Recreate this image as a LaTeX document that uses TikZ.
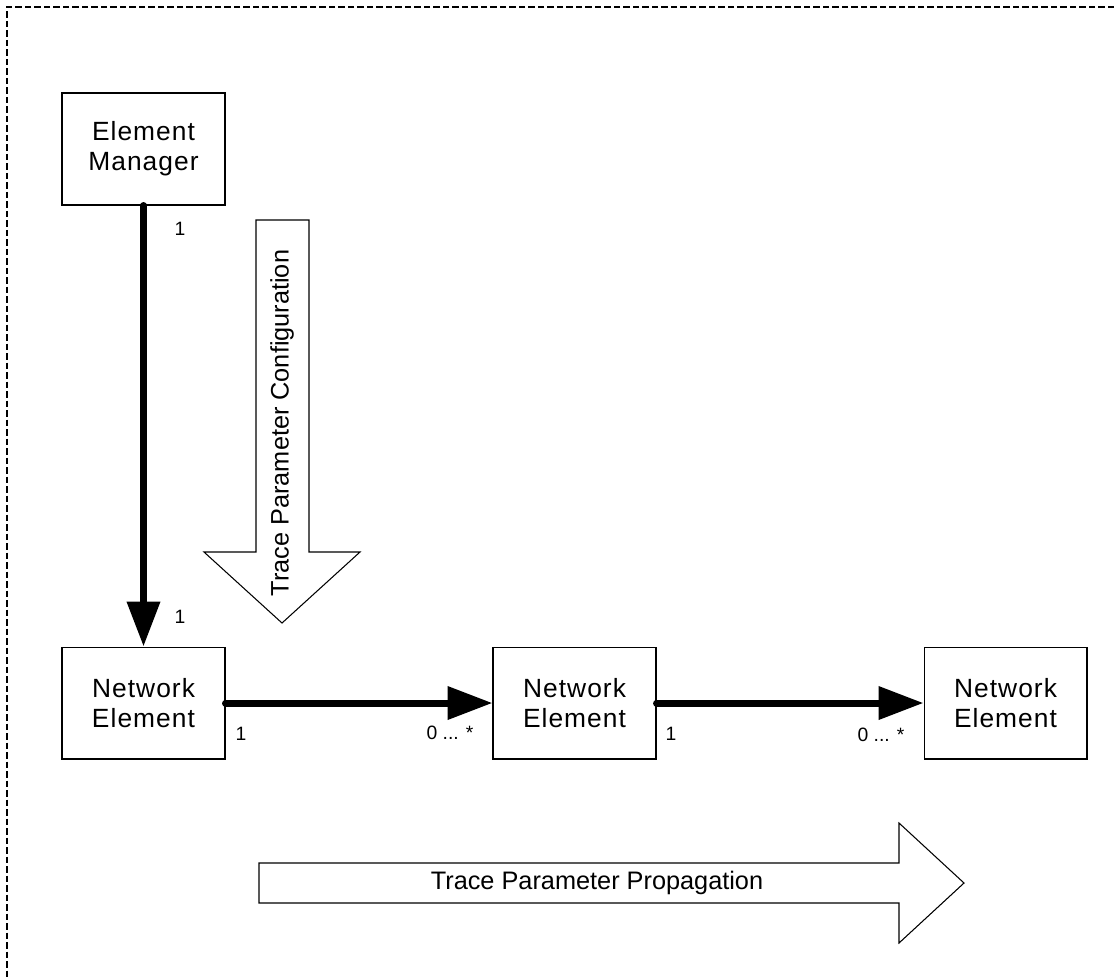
\documentclass[tikz,border=0pt]{standalone}
\usepackage{fontspec}
\setmainfont{Liberation Sans}
\usetikzlibrary{calc,arrows.meta}

\begin{document}
\begin{tikzpicture}[x=0.02cm,y=-0.02cm]
    \pgfmathsetmacro{\h}{703}	%row of network elements
    \pgfmathsetmacro{\d}{431}	%step between elements

    \tikzset{
        box/.style={draw, line width=0.6pt, minimum width=3.26cm, minimum height=2.24cm, align=center, font=\fontsize{15}{17}\selectfont\addfontfeatures{LetterSpace=4}},
        link/.style={line width=0.14cm, line cap=round, -{Triangle[length=0.9cm,width=0.64cm]}},
        mult/.style={font=\fontsize{11}{13}\selectfont},
        fat/.style={draw, line width=0.6pt, fill=white},
        border/.style={line width=0.045cm, dash pattern=on 0.13cm off 0.06cm}
    }

    \useasboundingbox (0,0) rectangle (1114,978);
    \draw[border] (1114,7) -- (7,7) -- (7,978);

    \coordinate (EM) at (143.5,149);
    \coordinate (NE1) at (143.5,\h);
    \coordinate (NE2) at ($(NE1) + (\d,0)$);
    \coordinate (NE3) at ($(NE2) + (\d,0)$);

    \node[box] (em) at (EM) {Element\\Manager};
    \node[box] (ne1) at (NE1) {Network\\Element};
    \node[box] (ne2) at (NE2) {Network\\Element};
    \node[box] (ne3) at (NE3) {Network\\Element};

    \draw[link] (em) -- (ne1);
    \draw[link] (ne1) -- (ne2);
    \draw[link] (ne2) -- (ne3);

    \node[mult] (m1) at (180,229) {1};
    \node[mult] (m2) at (180,617) {1};
    \node[mult] (m3) at (241,734) {1};
    \node[mult] (m4) at (450,733) {0 ... *};
    \node[mult] (m5) at (671,734) {1};
    \node[mult] (m6) at (881,735) {0 ... *};

    % big hollow arrows
    \draw[fat] (256,220) -- (309,220) -- (309,552) -- (360,552) -- (282,623) -- (204,552) -- (256,552) -- cycle;
    \node[rotate=90, font=\fontsize{14.4}{17}\selectfont] (cfg) at (282,423) {Trace Parameter Configuration};
    \draw[fat] (259,863) -- (899,863) -- (899,823) -- (964,883) -- (899,943) -- (899,903) -- (259,903) -- cycle;
    \node[font=\fontsize{14.4}{17}\selectfont] (prop) at (597,883) {Trace Parameter Propagation};
\end{tikzpicture}
\end{document}
